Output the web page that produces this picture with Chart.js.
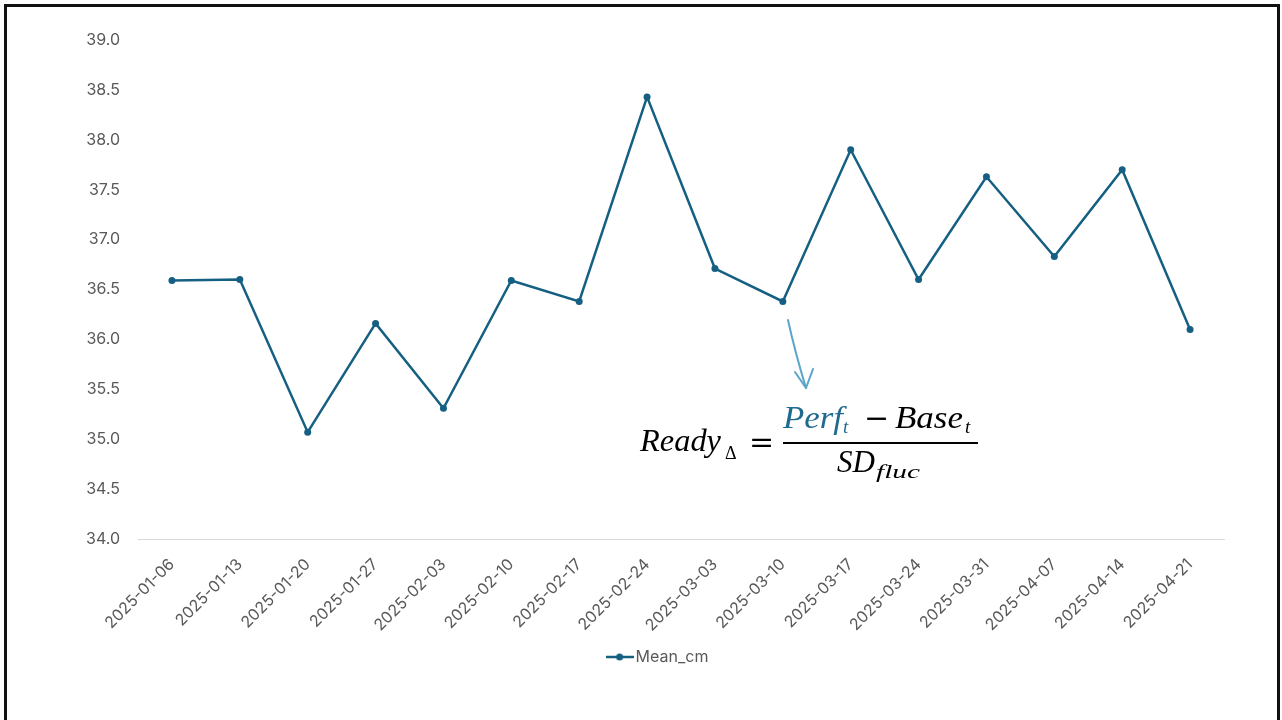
<!DOCTYPE html>
<html>
<head>
<meta charset="utf-8">
<script src="https://cdn.jsdelivr.net/npm/chart.js@4.4.1/dist/chart.umd.min.js"></script>
<style>
	body { margin: 0; background: #fff; overflow: hidden; }
	#wrap { position: relative; width: 1282px; height: 720px; }
	#frame { position: absolute; left: 4px; top: 4px; width: 1270px; height: 740px; border: 3px solid #111; pointer-events: none; }
	#note { position: absolute; left: 0; top: 0; pointer-events: none; }
</style>
</head>
<body>
<div id="wrap">
	<canvas id="myChart"></canvas>
	<svg id="note" width="1282" height="720">
		<!-- arrow -->
		<path d="M788,320 Q795,352 806,388" fill="none" stroke="#5aa5c8" stroke-width="2" stroke-linecap="round"/>
		<path d="M795,372 L806,388 L813,369" fill="none" stroke="#5aa5c8" stroke-width="2" stroke-linecap="round" stroke-linejoin="round"/>
		<!-- formula -->
		<g font-family="Liberation Serif" font-style="italic" fill="#000">
			<text x="640" y="451" font-size="32" textLength="81" lengthAdjust="spacingAndGlyphs">Ready</text>
			<text x="725" y="459" font-size="18" font-style="normal">Δ</text>
			<text x="749" y="452" font-size="30" font-family="DejaVu Serif" font-style="normal">=</text>
			<line x1="783" y1="443" x2="978" y2="443" stroke="#000" stroke-width="2"/>
			<text x="783" y="428" font-size="31" fill="#1f6a8f" textLength="60" lengthAdjust="spacingAndGlyphs">Perf</text>
			<text x="843" y="433" font-size="19" fill="#1f6a8f">t</text>
			<text x="864" y="428" font-size="30" font-family="DejaVu Serif" font-style="normal">−</text>
			<text x="895" y="428" font-size="31" textLength="68" lengthAdjust="spacingAndGlyphs">Base</text>
			<text x="965" y="433" font-size="19">t</text>
			<text x="837" y="472" font-size="31" textLength="38" lengthAdjust="spacingAndGlyphs">SD</text>
			<text x="876" y="478" font-size="19" textLength="44" lengthAdjust="spacingAndGlyphs">fluc</text>
		</g>
	</svg>
	<div id="frame"></div>
</div>
<script>
var weeks = ["2025-01-06", "2025-01-13", "2025-01-20", "2025-01-27", "2025-02-03", "2025-02-10",
	"2025-02-17", "2025-02-24", "2025-03-03", "2025-03-10", "2025-03-17", "2025-03-24",
	"2025-03-31", "2025-04-07", "2025-04-14", "2025-04-21"];
var meanCm = [36.59, 36.60, 35.07, 36.16, 35.31, 36.59, 36.38, 38.43, 36.71, 36.38, 37.90, 36.60,
	37.63, 36.83, 37.70, 36.10];
var yMin = 34.0;
var yMax = 39.0;
var yStep = 0.5;

var lineColor = "#156082";
var textColor = "#595959";
var tickFont = { family: "Inter", size: 16 };

// small line + dot icon for the legend
var icon = document.createElement("canvas");
icon.width = 28;
icon.height = 10;
var ictx = icon.getContext("2d");
ictx.strokeStyle = lineColor;
ictx.lineWidth = 2.5;
ictx.beginPath();
ictx.moveTo(0, 5);
ictx.lineTo(28, 5);
ictx.stroke();
ictx.fillStyle = lineColor;
ictx.beginPath();
ictx.arc(14, 5, 3.5, 0, Math.PI * 2);
ictx.fill();

// the legend sits a bit right of the canvas centre
var shiftLegend = {
	id: "shiftLegend",
	afterLayout: function(chart) {
		if (chart.legend) {
			chart.legend.left = 96;
		}
	}
};

var cv = document.getElementById("myChart");
cv.width = 1282;
cv.height = 720;

new Chart(cv, {
	type: "line",
	data: {
		labels: weeks,
		datasets: [{
			label: "Mean_cm",
			data: meanCm,
			borderColor: lineColor,
			backgroundColor: lineColor,
			borderWidth: 2.5,
			pointRadius: 3.5,
			pointBackgroundColor: lineColor,
			pointBorderWidth: 0,
			tension: 0,
			fill: false
		}]
	},
	options: {
		responsive: false,
		animation: false,
		layout: { padding: { left: 0, right: 58, top: 40, bottom: 45 } },
		plugins: {
			legend: {
				position: "bottom",
				labels: {
					usePointStyle: true,
					pointStyle: icon,
					pointStyleWidth: 16,
					color: textColor,
					font: tickFont,
					padding: 10
				}
			},
			tooltip: { enabled: false }
		},
		scales: {
			y: {
				min: yMin,
				max: yMax,
				grid: { display: false },
				border: { display: false },
				ticks: {
					stepSize: yStep,
					padding: 10,
					color: textColor,
					font: tickFont,
					callback: function(v) { return v.toFixed(1); }
				},
				afterFit: function(s) { s.width = 138; }
			},
			x: {
				offset: true,
				grid: { display: false },
				border: { display: true, color: "#d9d9d9", width: 1 },
				ticks: {
					minRotation: 45,
					maxRotation: 45,
					autoSkip: false,
					padding: 8,
					color: textColor,
					font: tickFont
				},
				afterFit: function(s) { s.height = 100; }
			}
		}
	},
	plugins: [shiftLegend]
});
</script>
</body>
</html>
